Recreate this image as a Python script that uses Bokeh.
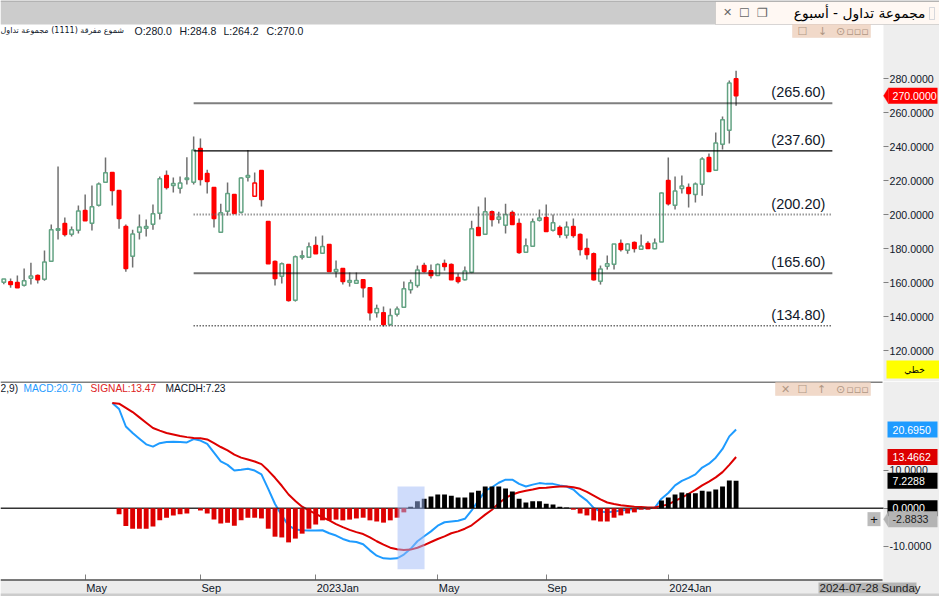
from bokeh.embed import file_html
from bokeh.resources import INLINE
from bokeh.layouts import column
from bokeh.models import (BoxAnnotation, ColumnDataSource, FixedTicker, Label, LinearAxis, PolyAnnotation,
                          PrintfTickFormatter, Range1d)
from bokeh.plotting import figure

opens = [160.4,160.6,160.2,158.6,162.7,164.3,162.1,172.7,191.0,194.9,188.6,191.0,202.5,195.1,205.7,219.2,224.9,214.3,193.1,175.7,
         189.8,192.1,194.5,201.0,223.1,217.2,215.7,220.8,219.2,239.0,224.3,216.1,189.8,202.1,212.0,201.5,222.1,211.0,226.1,196.1,
         172.5,163.9,170.8,149.8,175.1,175.1,182.0,177.4,182.5,166.7,168.4,160.4,159.8,161.9,157.2,142.5,142.5,135.5,141.5,145.7,
         155.9,158.4,170.2,167.2,164.3,171.4,170.8,163.1,161.9,166.3,192.5,188.6,201.9,197.4,193.9,201.4,194.9,178.0,181.6,196.8,
         198.4,191.0,192.5,188.0,193.1,188.4,180.2,177.2,161.0,169.8,171.0,183.1,179.2,183.7,179.8,183.1,180.0,184.1,220.2,205.7,
         215.5,216.1,212.0,218.0,233.7,226.3,241.5,249.8,280.0]
highs = [162.3,162.5,164.3,168.4,171.9,164.9,179.0,194.3,228.4,198.4,193.1,205.5,211.9,217.2,219.0,233.7,224.9,214.3,194.3,191.3,
         200.2,197.2,206.1,222.5,226.1,221.9,222.5,233.9,246.1,244.9,226.6,216.1,206.6,219.0,212.0,222.1,238.2,224.9,226.1,196.1,
         173.1,172.0,170.8,176.1,179.0,183.7,187.2,187.8,182.5,173.1,168.4,166.1,166.1,161.9,157.2,147.2,146.1,144.9,146.1,160.8,
         161.9,170.2,171.9,170.8,171.4,173.7,171.4,165.5,169.6,196.6,204.9,210.2,202.5,201.9,206.6,202.5,197.8,186.1,197.8,203.1,
         206.1,200.2,193.7,196.1,197.8,189.0,186.1,177.8,170.2,176.1,182.9,185.5,183.1,184.3,188.4,184.5,186.1,213.2,233.7,222.5,
         223.1,218.4,219.0,233.9,236.1,248.4,257.8,279.0,284.8]
lows = [159.2,157.2,157.2,157.8,159.0,159.6,161.3,172.7,185.5,187.2,187.2,189.0,196.6,190.8,204.9,219.2,205.5,191.9,166.6,169.0,
        185.5,187.2,191.3,197.2,214.9,213.1,212.5,217.8,217.8,217.2,212.5,192.5,189.8,199.6,200.8,200.8,219.6,211.0,204.9,171.3,
        158.4,159.6,149.0,149.0,173.7,174.9,177.2,177.4,166.7,163.1,159.0,157.8,159.8,151.4,137.8,139.6,134.3,134.9,140.2,145.7,
        153.7,157.2,166.1,162.5,164.3,167.2,161.9,159.6,161.4,165.7,187.8,188.4,193.1,194.9,189.0,194.3,177.2,177.8,181.6,196.1,
        190.2,190.2,186.6,186.1,186.6,176.1,173.7,161.4,159.0,167.8,167.8,178.4,177.2,177.8,179.4,180.2,179.8,184.0,205.5,203.1,
        212.5,204.3,207.2,211.3,225.5,226.3,238.4,242.0,264.2]
closes = [162.3,159.0,157.2,161.2,164.1,161.9,172.3,191.2,191.8,188.4,191.2,202.3,196.6,204.7,218.2,224.7,214.3,197.8,168.4,188.8,
          192.9,193.1,200.6,221.2,216.1,218.4,218.8,221.7,238.2,220.8,219.6,197.8,201.2,212.5,200.8,221.7,223.1,218.8,209.0,171.3,
          162.5,171.2,149.6,175.3,175.9,181.2,177.2,181.4,166.7,167.8,160.8,161.4,161.4,157.2,142.5,144.9,135.5,140.8,144.7,156.5,
          160.0,167.6,166.7,164.3,170.8,169.6,161.9,160.8,167.0,191.8,187.8,201.8,197.2,198.8,200.2,194.3,177.8,181.8,195.9,198.2,
          190.2,195.3,188.4,192.9,187.8,179.6,176.7,161.9,168.2,171.2,182.9,179.6,182.9,180.2,181.7,180.2,183.5,212.9,206.6,214.1,
          217.0,212.5,218.2,232.9,225.5,242.3,255.9,277.6,270.0]
price_ticks = [120, 140, 160, 180, 200, 220, 240, 260, 280]
level_values = [265.6, 237.6, 200.2, 165.6, 134.8]
level_labels = ["(265.60)", "(237.60)", "(200.20)", "(165.60)", "(134.80)"]
level_from, level_to, level_text_at = 28.0, 122.2, 113.2

macd_start = 16
macd_values = [27.7,26.1,21.5,19.8,18.3,16.8,16.2,17.1,17.4,17.5,17.4,17.3,18.2,17.8,16.9,14.6,12.3,11.4,9.9,10.1,10.4,9.9,8.9,5.1,1.1,
               -1.9,-4.6,-5.6,-5.8,-5.9,-5.9,-5.8,-6.6,-7.2,-8.1,-8.7,-8.9,-9.5,-11.1,-12.5,-13.2,-13.3,-13.2,-12.2,-10.7,-8.7,-7.4,-6.1,-4.6,-3.7,
               -3.5,-3.3,-2.8,-0.6,2.0,4.6,5.5,6.7,7.5,7.5,6.4,5.7,6.2,6.6,6.4,6.4,6.0,5.7,4.9,3.3,2.0,0.1,-0.9,-1.1,-0.9,
               -0.6,-0.4,-0.2,0.0,0.0,0.1,2.5,4.0,6.0,7.2,8.0,8.9,10.7,11.7,13.3,15.6,18.9,20.7]
signal_values = [27.7,27.5,26.4,25.3,23.9,22.5,21.1,20.4,19.8,19.4,19.0,18.7,18.5,18.4,18.1,17.1,16.1,15.2,14.1,13.3,12.8,12.3,11.6,9.9,8.0,
                 5.9,3.6,1.9,0.4,-0.6,-1.5,-2.4,-3.2,-4.2,-5.0,-5.7,-6.3,-6.8,-7.7,-8.7,-9.6,-10.4,-10.8,-11.0,-10.9,-10.4,-9.7,-8.9,-8.1,-7.4,
                 -6.6,-6.1,-5.4,-4.5,-3.1,-1.7,-0.4,1.3,2.7,3.6,4.2,4.6,4.9,5.3,5.4,5.6,5.7,5.7,5.5,5.1,4.3,3.3,2.3,1.5,1.1,
                 0.8,0.6,0.4,0.3,0.2,0.2,0.6,1.0,1.9,2.8,3.8,4.8,6.0,7.0,8.1,9.5,11.4,13.47]
hist_values = [-1.6,-4.7,-5.4,-5.4,-5.4,-4.8,-3.2,-2.5,-1.9,-1.6,-1.4,0.0,-0.6,-1.4,-3.0,-4.0,-3.8,-4.6,-3.2,-2.5,-2.5,-2.7,-5.4,-7.5,-7.7,
               -9.0,-8.0,-6.7,-5.4,-4.3,-3.2,-3.2,-3.0,-3.2,-3.0,-2.7,-2.5,-3.2,-3.5,-3.8,-3.2,-2.5,-1.1,0.4,1.8,2.5,3.1,3.6,3.6,3.3,
               2.8,2.8,4.1,4.6,5.7,5.7,5.7,5.2,4.4,2.5,1.5,1.8,1.8,1.2,1.0,0.4,0.2,-0.4,-1.4,-1.9,-3.2,-3.5,-3.5,-2.5,-1.9,
               -1.4,-1.1,-0.4,-0.4,-0.2,2.0,2.8,3.6,4.1,3.9,3.9,4.6,4.4,4.9,5.7,7.3,7.23]
macd_ticks = [-10, 0, 10]
highlight_from, highlight_to, highlight_low, highlight_high = 58.07, 62.05, -16.05, 5.7
x_ticks = [12, 29, 46, 64, 80, 98]
x_tick_labels = ["May", "Sep", "2023Jan", "May", "Sep", "2024Jan"]
ohlc_text = ["O:280.0", "H:284.8", "L:264.2", "C:270.0"]
title_text = "مجموعة تداول - أسبوع"
series_text = "شموع مفرقة (1111) مجموعة تداول"
macd_tag, signal_tag, hist_tag, zero_tag, cursor_tag, price_tag = 20.695, 13.4662, 7.2288, 0.0, -2.8833, 270.0

SANS = "Liberation Sans"
AR = "DejaVu Sans"
INK = "#10182a"
GREEN, RED, WICK = "#62a282", "#ff0000", "#707070"
W = 939
FRAME_R = 883
xr = Range1d(-0.487, 138.0)
X_EDGE = 129.75


def base(height, y_range):
    p = figure(width=W, height=height, x_range=xr, y_range=y_range, x_axis_location=None, y_axis_location=None,
               output_backend="svg", toolbar_location=None, tools="")
    p.grid.visible = False
    p.outline_line_color = None
    p.min_border_left = p.min_border_right = p.min_border_top = p.min_border_bottom = 0
    p.border_fill_color = "#ffffff"
    p.background_fill_color = "#ffffff"
    return p


def value_axis(p, ticks):
    ax = LinearAxis(fixed_location=X_EDGE, ticker=FixedTicker(ticks=ticks), formatter=PrintfTickFormatter(format="%.4f"))
    ax.axis_line_color = None
    ax.major_tick_in = 0
    ax.major_tick_out = 5
    ax.major_tick_line_color = "#808080"
    ax.minor_tick_line_color = None
    ax.major_label_standoff = 1
    ax.major_label_text_font = SANS
    ax.major_label_text_font_size = "10.6px"
    ax.major_label_text_color = INK
    p.add_layout(ax, "right")


def text(p, s, x, y, size="10.5px", color=INK, font=SANS, align="left", baseline="middle", **kw):
    kw.setdefault("x_units", "canvas")
    kw.setdefault("y_units", "canvas")
    p.add_layout(Label(text=s, x=x, y=y, text_font=font, text_font_size=size, text_color=color,
                       text_align=align, text_baseline=baseline, **kw))


def box(p, l, r, t, b, fill, line=None, level="annotation"):
    p.add_layout(BoxAnnotation(left=l, right=r, top=t, bottom=b, left_units="canvas", right_units="canvas",
                               top_units="canvas", bottom_units="canvas", fill_color=fill, fill_alpha=1 if fill else 0,
                               line_color=line, line_width=1, level=level))


def tag(p, s, v, fill, color, cy, tip=False):
    y = cy(v)
    box(p, 888 if tip else 887, 937, y - 8, y + 8, fill)
    if tip:
        p.add_layout(PolyAnnotation(xs=[883, 888, 888], ys=[y, y - 8, y + 8], xs_units="canvas", ys_units="canvas",
                                    fill_color=fill, fill_alpha=1, line_color=fill))
    text(p, s, 892, y, "10.6px", color)


def toolbar(p, top, left, icons):
    box(p, left, 870, top, top + 13, "#f1d9c9", "#e5c4ae")
    for glyph, x in icons:
        text(p, glyph, x, top + 6.5, "11px", "#b09784", AR, align="center")


# ---------- price panel ----------
P_H = 381
p1_lo, p1_hi = 102.0, 326.06
p1 = base(P_H, Range1d(p1_lo, p1_hi))


def cy1(v):
    return (p1_hi - v) / (p1_hi - p1_lo) * P_H


box(p1, FRAME_R, W, 24, P_H, "#eeeeee", level="underlay")
value_axis(p1, price_ticks)

n = len(closes)
idx = list(range(n))
tops = [max(o, c) for o, c in zip(opens, closes)]
bots = [min(o, c) for o, c in zip(opens, closes)]
line_c, fill_c = [], []
for i in idx:
    if closes[i] <= opens[i]:
        line_c.append(RED); fill_c.append(RED)
    elif i and closes[i] < closes[i - 1]:
        line_c.append(RED); fill_c.append("#ffffff")
    else:
        line_c.append(GREEN); fill_c.append("#ffffff")
src = ColumnDataSource(dict(x=idx, high=highs, low=lows, top=tops, bot=bots, lc=line_c, fc=fill_c))
p1.segment("x", "high", "x", "low", source=src, line_color=WICK, line_width=1.5)
p1.vbar("x", 0.52, "top", "bot", source=src, fill_color="fc", line_color="lc", line_width=1.5)

styles = [("#000000", 0.5, 2, False), ("#000000", 1, 1.2, False), ("#666666", 1, 2, True),
          ("#000000", 0.55, 2, False), ("#222222", 1, 1.5, True)]
for v, lab, (col, alpha, w, dotted) in zip(level_values, level_labels, styles):
    r = p1.segment([level_from], [v], [level_to], [v], line_color=col, line_alpha=alpha, line_width=w)
    r.glyph.line_dash = [1, 2] if dotted else []
    text(p1, lab, level_text_at, v, "14.5px", INK, baseline="bottom", x_units="data", y_units="data", y_offset=3)

# header strip
box(p1, 0, W, 0, 24, "#cccccc")
box(p1, 715, W, 1, 24, "#fff8f3", "#9a9a9a")
box(p1, 0, W, 0, 1, "#9a9a9a")
text(p1, "✕", 727, 12, "11px", "#666666", AR, align="center")
text(p1, "☐", 744, 12, "12px", "#666666", AR, align="center")
text(p1, "❐", 762, 12, "12px", "#666666", AR, align="center")
text(p1, title_text, 925, 12, "13.8px", "#000000", AR, align="right")
box(p1, 929, 934, 7, 19, None, "#7c90aa")
text(p1, series_text, 0, 30, "8px", INK, AR)
for s, x in zip(ohlc_text, [134, 179, 223, 266]):
    text(p1, s, x, 30, "10.5px")
toolbar(p1, 24, 792, [("☐", 802), ("↓", 822), ("⊙", 840), ("▫▫▫", 857)])

tag(p1, "270.0000", price_tag, "#ff0000", "#ffffff", cy1, tip=True)
box(p1, 886, W, 360, 378, "#ffff00")
text(p1, "خطي", 914, 369, "9px", "#000000", AR, align="center")

# ---------- MACD panel ----------
M_H = 215
p2_hi, p2_lo = 33.34, -23.24
p2 = base(M_H, Range1d(p2_lo, p2_hi))
STRIP_TOP = 198


def cy2(v):
    return (p2_hi - v) / (p2_hi - p2_lo) * M_H


box(p2, FRAME_R, W, 0, M_H, "#eeeeee", level="underlay")
box(p2, 0, FRAME_R, STRIP_TOP, M_H, "#ececec", level="underlay")
value_axis(p2, macd_ticks)
xa = LinearAxis(fixed_location=p2_hi - STRIP_TOP / M_H * (p2_hi - p2_lo), ticker=FixedTicker(ticks=x_ticks))
xa.axis_line_color = None
xa.major_tick_in = 5
xa.major_tick_out = 0
xa.major_tick_line_color = "#808080"
xa.minor_tick_line_color = None
xa.major_label_text_color = None
xa.major_label_text_font_size = "1px"
p2.add_layout(xa, "below")

mx = list(range(macd_start, n))
p2.line(mx, macd_values, line_color="#1e9bff", line_width=2)
p2.line(mx, signal_values, line_color="#dd0000", line_width=2)
p2.segment([-0.487], [0], [X_EDGE], [0], line_color="#333333", line_width=1.5)
hx = list(range(macd_start + 1, n))
pos = [v > 0 for v in hist_values]
p2.vbar([x for x, k in zip(hx, pos) if k], 0.72, [v for v, k in zip(hist_values, pos) if k], 0, fill_color="#000000", line_color=None)
p2.vbar([x for x, k in zip(hx, pos) if not k], 0.72, 0, [v for v, k in zip(hist_values, pos) if not k], fill_color="#dd0000", line_color=None)
p2.add_layout(BoxAnnotation(left=highlight_from, right=highlight_to, bottom=highlight_low, top=highlight_high,
                            fill_color="#9fb9f7", fill_alpha=0.5, line_color=None))
box(p2, 0, 882, 0, 1, "#000000")
box(p2, 0, 882, STRIP_TOP, STRIP_TOP + 1, "#000000")

text(p2, "2,9)", 0, 7, "10.2px")
text(p2, "MACD:20.70", 23, 7, "10.2px", "#1e9bff")
text(p2, "SIGNAL:13.47", 90, 7, "10.2px", "#dd2222")
text(p2, "MACDH:7.23", 165, 7, "10.2px", INK)
toolbar(p2, 1, 775, [("✕", 785), ("☐", 802), ("↑", 821), ("⊙", 840), ("▫▫▫", 857)])

tag(p2, "20.6950", macd_tag, "#1e9bff", "#ffffff", cy2)
tag(p2, "13.4662", signal_tag, "#dd0000", "#ffffff", cy2)
tag(p2, "7.2288", hist_tag, "#000000", "#ffffff", cy2)
tag(p2, "0.0000", zero_tag, "#000000", "#ffffff", cy2)
tag(p2, "-2.8833", cursor_tag, "#b4b4b4", "#222222", cy2, tip=True)
box(p2, 867, 880, cy2(cursor_tag) - 7, cy2(cursor_tag) + 7, "#bbbbbb")
text(p2, "+", 873.5, cy2(cursor_tag), "13px", "#111111", align="center")

# time strip
box(p2, 0, W, 212, M_H, "#cccccc")
for t, s in zip(x_ticks, x_tick_labels):
    text(p2, s, t, 206, "11px", INK, x_units="data", x_offset=1)
box(p2, 818, 916, 201, 212, "#b5b5b5")
text(p2, "2024-07-28 Sunday", 819, 206.5, "11.5px", "#222222")

open("out.html", "w").write(file_html(column(p1, p2, spacing=0), INLINE))
